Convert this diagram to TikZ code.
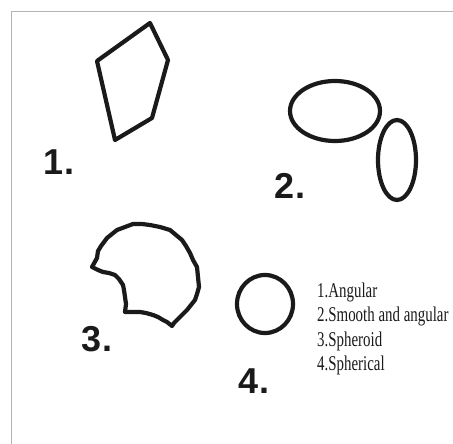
\documentclass[tikz,border=0pt]{standalone}
\usepackage{fontspec}
\setmainfont{Liberation Serif}
\newfontfamily\etiketFont{Liberation Sans}
\usepackage{tikz}
\definecolor{cerceveGri}{HTML}{B4B4B4}
\definecolor{sekilSiyah}{HTML}{1A1A1A}
\tikzset{
  sekil/.style={sekilSiyah,line width=4.2pt,line join=round},
  numara/.style={font=\etiketFont\fontsize{36}{36}\selectfont\bfseries,sekilSiyah,inner sep=0pt},
  aciklama/.style={font=\fontsize{21}{21}\selectfont,sekilSiyah,anchor=west,inner sep=0pt}
}
\newcommand{\dar}[1]{\scalebox{0.71}[1]{#1}}

\begin{document}
\begin{tikzpicture}[x=1pt,y=-1pt]
\useasboundingbox (0,0) rectangle (453,444);
\draw[cerceveGri,line width=1.5pt] (11.5,470)--(11.5,11.5)--(470,11.5);
\draw[sekil] (97,61)--(150,23)--(168,60)--(152,118)--(115,140)--cycle;
\draw[sekil] (335,111) ellipse (45 and 30);
\draw[sekil] (397,160) ellipse (19 and 40);
\draw[sekil] (92,267)--(97,258)--(98,251)--(101,246)--(107,238)--(112,234)--(117,230)--(125,227)--(133,224)--(142,224)--(150,225)--(160,227)--(170,230)--(176,235)--(182,240)--(186,246)--(190,253)--(193,260)--(197,267)--(198,277)--(199,287)--(197,294)--(195,300)--(191,305)--(187,310)--(182,315)--(177,320)--(174,323)--(172,326)--(167,322)--(163,320)--(158,317)--(153,315)--(146,313)--(140,312)--(132,312)--(125,312)--(126,304)--(125,297)--(124,290)--(123,285)--(119,279)--(115,275)--(109,273)--(103,272)--(98,270)--cycle;
\draw[sekil] (265,304) ellipse (28 and 29);
\node[numara] (n1) at (59,162) {1.};
\node[numara] (n2) at (290,186) {2.};
\node[numara] (n3) at (97,339) {3.};
\node[numara] (n4) at (254,381) {4.};
\node[aciklama] (a1) at (317,292) {\dar{1.Angular}};
\node[aciklama] (a2) at (317,316) {\dar{2.Smooth and angular}};
\node[aciklama] (a3) at (317,341) {\dar{3.Spheroid}};
\node[aciklama] (a4) at (317,365) {\dar{4.Spherical}};
\end{tikzpicture}
\end{document}
